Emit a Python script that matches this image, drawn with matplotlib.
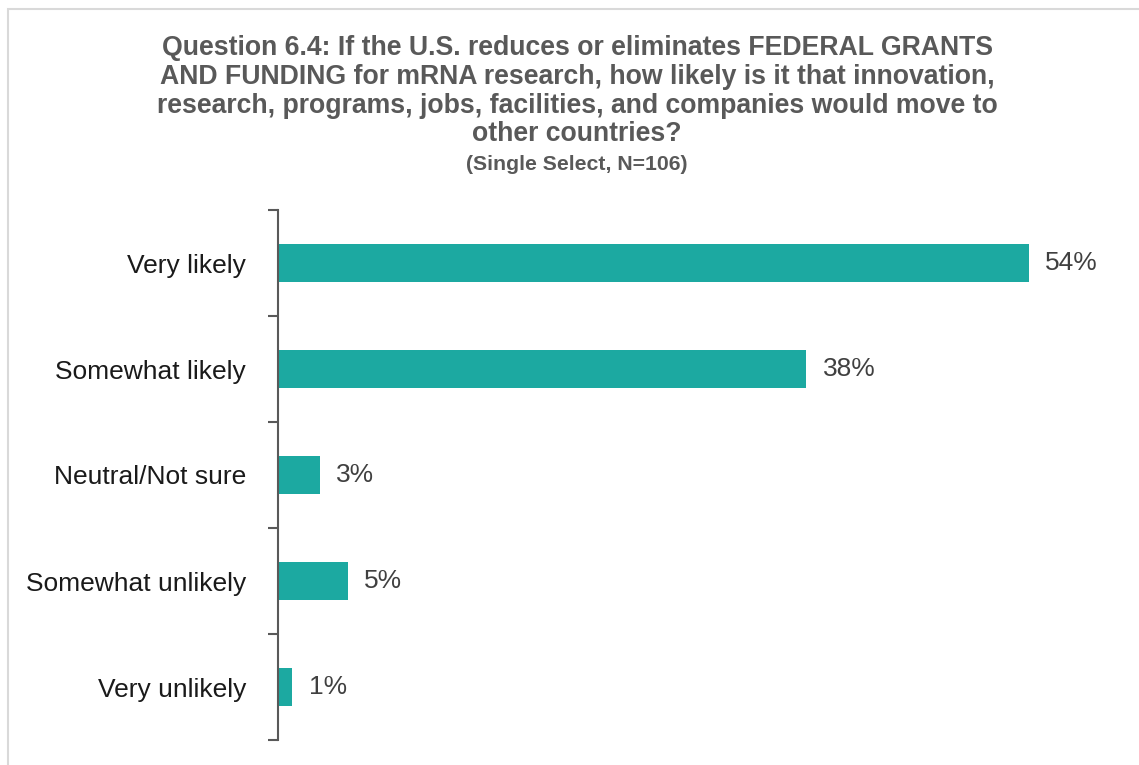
import matplotlib
matplotlib.use("Agg")
from matplotlib import pyplot as plt
from matplotlib.patches import Rectangle
import numpy as np

plt.rcParams['font.family'] = ['Liberation Sans', 'DejaVu Sans']

categories = ['Very likely', 'Somewhat likely', 'Neutral/Not sure',
              'Somewhat unlikely', 'Very unlikely']
percents = [54, 38, 3, 5, 1]

title = ('Question 6.4: If the U.S. reduces or eliminates FEDERAL GRANTS\n'
         'AND FUNDING for mRNA research, how likely is it that innovation,\n'
         'research, programs, jobs, facilities, and companies would move to\n'
         'other countries?')
subtitle = '(Single Select, N=106)'

W, H = 1139, 765
fig = plt.figure(figsize=(W / 100, H / 100), dpi=100)

# light frame, only top and left edges fall inside the canvas
fig.patches.append(Rectangle((8 / W, -0.1), 1.2, 1 - 9 / H + 0.1,
                             transform=fig.transFigure, fill=False,
                             edgecolor='#d9d9d9', linewidth=1.5))

ax = fig.add_axes([278 / W, 1 - 740 / H, 834 / W, 530 / H])
y = np.arange(len(categories))
ax.barh(y, percents, height=0.35, color='#1ca9a1')
ax.set_xlim(0, 60)
ax.set_ylim(len(categories) - 0.5, -0.5)

for yi, v in zip(y, percents):
    ax.text(v + 1.2, yi, f'{v}%', va='center', ha='left',
            fontsize=19, color='#404040')

ax.set_yticks(y)
ax.set_yticklabels(categories, fontsize=19, color='#1a1a1a')
ax.tick_params(axis='y', which='major', length=0, pad=23)
ax.set_yticks(np.arange(len(categories) + 1) - 0.5, minor=True)
ax.tick_params(axis='y', which='minor', length=7, width=1.5, color='#595959')
ax.set_xticks([])
for s in ['top', 'right', 'bottom']:
    ax.spines[s].set_visible(False)
ax.spines['left'].set_color('#595959')
ax.spines['left'].set_linewidth(1.5)

fig.text(577 / W, 1 - 35 / H, title, ha='center', va='top', fontsize=19.2,
         fontweight='bold', color='#595959', linespacing=1.14)
fig.text(577 / W, 1 - 165 / H, subtitle, ha='center', va='center',
         fontsize=15.3, fontweight='bold', color='#595959')

fig.savefig('out.png', dpi=100)
